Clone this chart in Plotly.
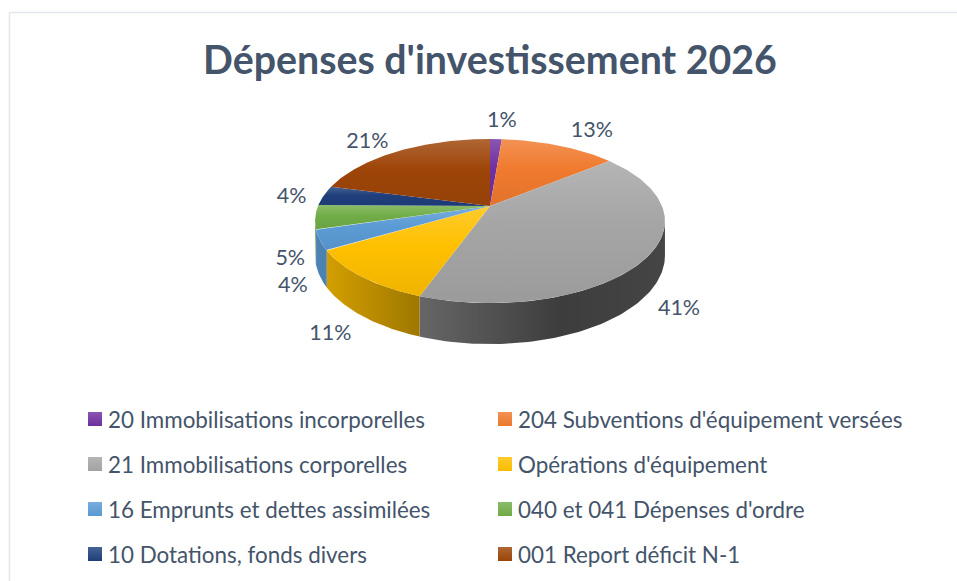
import numpy as np
import plotly.graph_objects as go

TITLE = "Dépenses d'investissement 2026"
categories = ["20 Immobilisations incorporelles", "204 Subventions d'équipement versées",
              "21 Immobilisations corporelles", "Opérations d'équipement",
              "16 Emprunts et dettes assimilées", "040 et 041 Dépenses d'ordre",
              "10 Dotations, fonds divers", "001 Report déficit N-1"]
values = [1.3, 12.8, 41.4, 11.0, 3.9, 4.8, 3.9, 20.9]
colors = ["#7030A0", "#F07A2E", "#A5A5A5", "#FFC000", "#5B9BD5", "#70AD47", "#1F3F7C", "#9E4508"]

# layout constants: 3D projection of the pie, in figure pixels
CX, CY, R, S, K, DEPTH = 490, 206, 172, 79.3, 0.183, 33.5
LABEL_OFFSETS = [(6, -17), (33, -14), (32, 52), (-32, 57), (-27, 46), (-25, 42), (-32, 2), (-31, -9)]
TEXT = "#44546A"
FONT = "Lato, Carlito, Calibri, sans-serif"


def project(theta, drop=0.0):
    u, v = np.sin(theta), np.cos(theta)
    w = 1 + K * v
    return CX + R * u / w, CY - S * v / w + drop / w


def mix(c, other, t):
    a = np.array([int(c[i:i + 2], 16) for i in (1, 3, 5)], float)
    b = np.array(other, float)
    m = a * (1 - t) + b * t
    return "rgb(%d,%d,%d)" % tuple(m.round())


fig = go.Figure()
edges = np.cumsum([0] + values) / sum(values) * 2 * np.pi
vis_lo, vis_hi = np.arccos(-K), 2 * np.pi - np.arccos(-K)
SHADE = [(316, 0.15), (420, 0.38), (560, 0.63), (665, 0.58)]
x0, x1 = SHADE[0][0], SHADE[-1][0]

# side walls, behind the top faces
for i, c in enumerate(colors):
    a, b = max(edges[i], vis_lo), min(edges[i + 1], vis_hi)
    if b <= a:
        continue
    t = np.linspace(a, b, 80)
    xt, yt = project(t)
    xb, yb = project(t, DEPTH)
    scale = [[(x - x0) / (x1 - x0), mix(c, (0, 0, 0), s)] for x, s in SHADE]
    fig.add_trace(go.Scatter(
        x=np.r_[xt, xb[::-1]], y=np.r_[yt, yb[::-1]], mode="lines", fill="toself",
        line=dict(width=0), fillgradient=dict(type="horizontal", colorscale=scale, start=x0, stop=x1),
        hoverinfo="skip", showlegend=False))

# top faces, each with its own light-to-base gradient
for i, c in enumerate(colors):
    t = np.linspace(edges[i], edges[i + 1], 120)
    x, y = project(t)
    ys = np.r_[CY, y, CY]
    scale = [[0, mix(c, (255, 255, 255), 0.18)], [0.45, mix(c, (255, 255, 255), 0.0)],
             [1, mix(c, (0, 0, 0), 0.06)]]
    fig.add_trace(go.Scatter(
        x=np.r_[CX, x, CX], y=ys, mode="lines", fill="toself",
        line=dict(width=0),
        fillgradient=dict(type="vertical", colorscale=scale, start=float(ys.min()), stop=float(ys.max())),
        hoverinfo="skip", showlegend=False))

# percentage labels
mids = (edges[:-1] + edges[1:]) / 2
mx, my = project(mids)
fig.add_trace(go.Scatter(
    x=mx + np.array([o[0] for o in LABEL_OFFSETS]), y=my + np.array([o[1] for o in LABEL_OFFSETS]),
    mode="text", text=["%d%%" % round(v) for v in values], textposition="middle center",
    textfont=dict(family=FONT, size=21.5, color=TEXT), hoverinfo="skip", showlegend=False))

# legend: two columns, four rows
COLS, ROWS = [95, 505], [419, 464, 509, 554]
for i, (name, c) in enumerate(zip(categories, colors)):
    lx, ly = COLS[i % 2], ROWS[i // 2]
    fig.add_trace(go.Scatter(
        x=[lx], y=[ly], mode="markers",
        marker=dict(symbol="square", size=14, color=mix(c, (255, 255, 255), 0.18), line=dict(width=0),
                    gradient=dict(type="vertical", color=mix(c, (0, 0, 0), 0.02))),
        hoverinfo="skip", showlegend=False))
    fig.add_annotation(x=lx + 13, y=ly, text=name, showarrow=False, xanchor="left", yanchor="middle",
                       xref="x", yref="y", xshift=0, borderpad=0, borderwidth=0,
                       font=dict(family=FONT, size=22.4, color=TEXT))

fig.update_layout(
    width=957, height=581, autosize=False, margin=dict(l=0, r=0, t=0, b=0),
    paper_bgcolor="white", plot_bgcolor="white", showlegend=False, hovermode=False,
    title=dict(text=TITLE, x=490 / 957, xanchor="center", y=1 - 60 / 581, yanchor="middle",
               font=dict(family=FONT, size=39.3, color=TEXT, weight="bold")),
    xaxis=dict(range=[0, 957], visible=False, fixedrange=True),
    yaxis=dict(range=[581, 0], visible=False, fixedrange=True),
    shapes=[dict(type="line", xref="x", yref="y", x0=9.5, y0=12.5, x1=957, y1=12.5,
                 line=dict(color="#E2E7EC", width=1.5)),
            dict(type="line", xref="x", yref="y", x0=9.5, y0=12.5, x1=9.5, y1=581,
                 line=dict(color="#E2E7EC", width=1.5))],
)
fig.write_html("out.html", config={"displayModeBar": False},
               post_script="document.body.style.margin='0';document.body.style.overflow='hidden';")
